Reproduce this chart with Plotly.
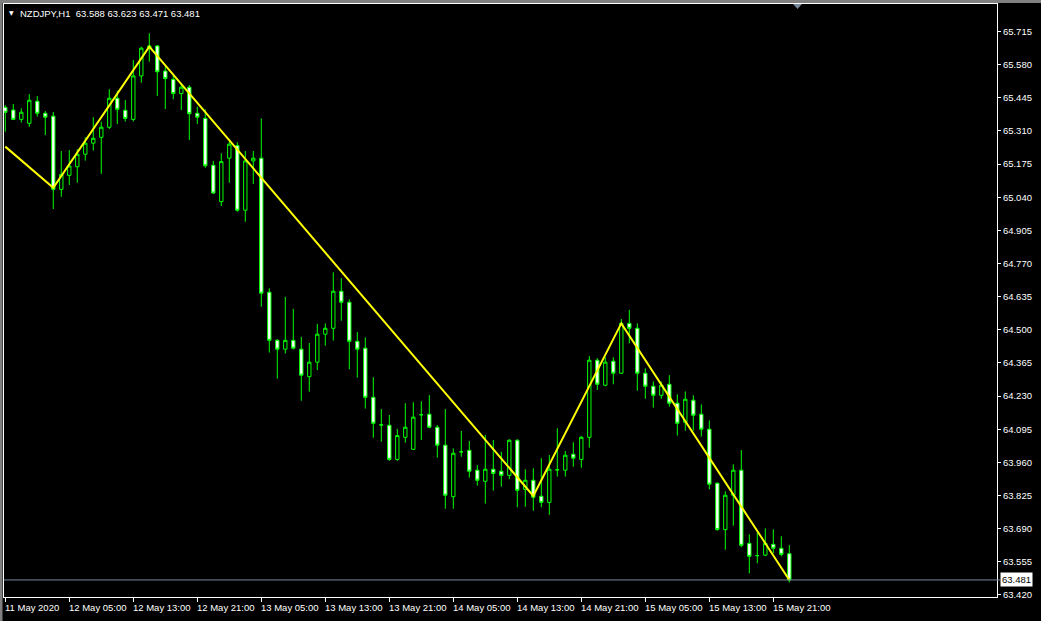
import pandas as pd
import plotly.graph_objects as go

# ---- data ----
times = pd.date_range("2020-05-11 21:00", periods=99, freq="h")

opens = [65.406, 65.395, 65.357, 65.341, 65.431, 65.382, 65.370, 65.072, 65.129, 65.164,
         65.215, 65.260, 65.284, 65.325, 65.443, 65.394, 65.357, 65.534, 65.647, 65.656,
         65.554, 65.520, 65.462, 65.488, 65.382, 65.361, 65.170, 65.022, 65.199, 65.250,
         64.987, 65.188, 65.199, 64.653, 64.457, 64.421, 64.457, 64.421, 64.309, 64.368,
         64.482, 64.506, 64.657, 64.612, 64.453, 64.425, 64.225, 64.113, 64.111, 63.972,
         64.062, 64.013, 64.154, 64.156, 64.103, 64.030, 63.820, 64.003, 64.009, 63.928,
         63.883, 63.932, 63.924, 63.907, 64.050, 63.850, 63.887, 63.822, 63.797, 63.929,
         63.928, 63.993, 63.972, 64.062, 64.376, 64.274, 64.372, 64.323, 64.526, 64.506,
         64.323, 64.270, 64.233, 64.278, 64.201, 64.123, 64.213, 64.156, 64.095, 63.875,
         63.686, 63.826, 63.928, 63.630, 63.580, 63.582, 63.626, 63.610, 63.588]
highs = [65.415, 65.420, 65.402, 65.460, 65.452, 65.391, 65.387, 65.228, 65.232, 65.236,
         65.284, 65.366, 65.348, 65.480, 65.474, 65.436, 65.599, 65.653, 65.708, 65.660,
         65.572, 65.538, 65.497, 65.497, 65.409, 65.398, 65.188, 65.219, 65.266, 65.264,
         65.228, 65.228, 65.361, 64.669, 64.462, 64.634, 64.585, 64.471, 64.446, 64.524,
         64.526, 64.734, 64.710, 64.624, 64.491, 64.469, 64.307, 64.177, 64.153, 64.096,
         64.201, 64.205, 64.209, 64.234, 64.112, 64.177, 64.017, 64.088, 64.047, 63.949,
         64.071, 64.051, 64.003, 64.054, 64.054, 63.932, 63.936, 63.977, 63.990, 64.099,
         64.006, 64.042, 64.067, 64.393, 64.384, 64.388, 64.388, 64.544, 64.581, 64.526,
         64.343, 64.290, 64.289, 64.315, 64.237, 64.249, 64.233, 64.196, 64.131, 63.878,
         63.842, 63.952, 64.010, 63.667, 63.675, 63.691, 63.687, 63.659, 63.623]
lows = [65.307, 65.355, 65.344, 65.327, 65.368, 65.293, 64.992, 65.042, 65.090, 65.099,
        65.189, 65.230, 65.135, 65.318, 65.338, 65.348, 65.348, 65.506, 65.592, 65.452,
        65.399, 65.439, 65.395, 65.273, 65.338, 65.160, 65.053, 65.004, 65.099, 64.981,
        64.940, 65.094, 64.594, 64.407, 64.301, 64.403, 64.420, 64.211, 64.248, 64.336,
        64.435, 64.456, 64.537, 64.339, 64.305, 64.179, 64.060, 64.044, 63.966, 63.966,
        64.040, 64.010, 64.051, 64.099, 63.979, 63.771, 63.771, 63.983, 63.898, 63.865,
        63.792, 63.845, 63.861, 63.891, 63.777, 63.779, 63.763, 63.777, 63.746, 63.902,
        63.902, 63.942, 63.938, 64.020, 64.255, 64.270, 64.278, 64.320, 64.445, 64.252,
        64.219, 64.183, 64.219, 64.187, 64.069, 64.089, 64.089, 64.065, 63.850, 63.682,
        63.604, 63.702, 63.614, 63.508, 63.549, 63.578, 63.590, 63.577, 63.471]
closes = [65.386, 65.357, 65.386, 65.435, 65.382, 65.366, 65.072, 65.133, 65.167, 65.215,
          65.260, 65.280, 65.325, 65.443, 65.398, 65.361, 65.534, 65.647, 65.656, 65.551,
          65.523, 65.462, 65.488, 65.380, 65.366, 65.168, 65.057, 65.185, 65.256, 64.987,
          65.188, 65.199, 64.649, 64.457, 64.421, 64.457, 64.425, 64.315, 64.368, 64.482,
          64.506, 64.657, 64.612, 64.453, 64.421, 64.225, 64.119, 64.112, 63.972, 64.069,
          64.103, 64.144, 64.154, 64.103, 64.030, 63.826, 63.997, 64.003, 63.924, 63.887,
          63.932, 63.915, 63.907, 64.050, 63.846, 63.887, 63.818, 63.797, 63.932, 63.930,
          63.989, 63.977, 64.062, 64.376, 64.278, 64.368, 64.323, 64.526, 64.506, 64.323,
          64.270, 64.233, 64.274, 64.201, 64.119, 64.217, 64.152, 64.095, 63.871, 63.686,
          63.826, 63.928, 63.622, 63.577, 63.580, 63.630, 63.610, 63.585, 63.481]

# zigzag indicator vertices (bar index, price)
zz_idx = [0, 6, 18, 66, 77, 98]
zz_price = [65.246, 65.078, 65.653, 63.823, 64.526, 63.481]

# axis labels
y_ticks = [65.715, 65.580, 65.445, 65.310, 65.175, 65.040, 64.905, 64.770, 64.635,
           64.500, 64.365, 64.230, 64.095, 63.960, 63.825, 63.690, 63.555, 63.420]
x_tick_idx = [0, 8, 16, 24, 32, 40, 48, 56, 64, 72, 80, 88, 96]
x_tick_text = ["11 May 2020", "12 May 05:00", "12 May 13:00", "12 May 21:00",
               "13 May 05:00", "13 May 13:00", "13 May 21:00", "14 May 05:00",
               "14 May 13:00", "14 May 21:00", "15 May 05:00", "15 May 13:00",
               "15 May 21:00"]
symbol_title = "NZDJPY,H1"
last_price = closes[-1]

FONT = "Liberation Sans"
GREEN = "#00FF00"

fig = go.Figure()
fig.add_trace(go.Candlestick(
    x=times, open=opens, high=highs, low=lows, close=closes,
    increasing=dict(line=dict(color=GREEN, width=1), fillcolor="#000000"),
    decreasing=dict(line=dict(color=GREEN, width=1), fillcolor="#FFFFFF"),
    whiskerwidth=0, showlegend=False, hoverinfo="skip",
))
fig.add_trace(go.Scatter(
    x=[times[i] for i in zz_idx], y=zz_price, mode="lines",
    line=dict(color="#FFFF00", width=2), showlegend=False, hoverinfo="skip",
))

hour = pd.Timedelta(hours=1)
x0 = times[0] - 0.16 * hour
x1 = times[0] + 123.96 * hour

fig.update_layout(
    width=1041, height=621,
    margin=dict(l=4, r=44, t=4, b=24, autoexpand=False),
    paper_bgcolor="#000000", plot_bgcolor="#000000",
    boxgap=0.4,
    font=dict(family=FONT, size=9.5, color="#FFFFFF"),
    xaxis=dict(
        range=[x0, x1], rangeslider=dict(visible=False),
        showgrid=False, zeroline=False,
        showline=True, linecolor="#FFFFFF", linewidth=1, mirror=True,
        tickmode="array", tickvals=[times[i] for i in x_tick_idx],
        ticks="outside", ticklen=4, tickcolor="#FFFFFF", tickwidth=1,
        showticklabels=False,
    ),
    yaxis=dict(
        range=[63.4115, 65.827], side="right",
        showgrid=False, zeroline=False,
        showline=True, linecolor="#FFFFFF", linewidth=1, mirror=True,
        tickmode="array", tickvals=y_ticks,
        ticktext=[f"{v:.3f}" for v in y_ticks],
        ticks="outside", ticklen=3, tickcolor="#FFFFFF", tickwidth=1,
        tickfont=dict(family=FONT, size=9.5, color="#FFFFFF"),
    ),
)

# x tick labels, left-aligned at their ticks (MetaTrader style)
for i, txt in zip(x_tick_idx, x_tick_text):
    fig.add_annotation(x=times[i], y=0, xref="x", yref="paper", text=txt,
                       showarrow=False, xanchor="left", yanchor="top",
                       xshift=-2, yshift=-3,
                       font=dict(family=FONT, size=9.5, color="#FFFFFF"))

# title line
fig.add_annotation(x=0.0145, y=0.984, xref="paper", yref="paper",
                   text=f"{symbol_title}\u00a0\u00a0{opens[-1]:.3f} {highs[-1]:.3f} {lows[-1]:.3f} {closes[-1]:.3f}",
                   showarrow=False, xanchor="left", yanchor="middle",
                   font=dict(family=FONT, size=9.5, color="#FFFFFF"))
fig.add_annotation(x=0.0075, y=0.985, xref="paper", yref="paper", text="\u25BC",
                   showarrow=False, xanchor="center", yanchor="middle",
                   font=dict(family="DejaVu Sans", size=6, color="#FFFFFF"))

# current price line and label
fig.add_shape(type="line", xref="paper", yref="y", x0=0, x1=1.003,
              y0=last_price, y1=last_price,
              line=dict(color="#778899", width=1))
fig.add_annotation(x=1.003, y=last_price, xref="paper", yref="y",
                   text=f"{last_price:.3f}", showarrow=False,
                   xanchor="left", yanchor="middle", bgcolor="#FFFFFF",
                   borderpad=1,
                   font=dict(family=FONT, size=9.5, color="#000000"))

# chart shift marker at top
fig.add_shape(type="path", xref="paper", yref="paper",
              path="M 0.7946 1 L 0.8036 1 L 0.7991 0.9915 Z",
              fillcolor="#778899", line=dict(width=0))

# window chrome strips
fig.add_shape(type="rect", xref="paper", yref="paper",
              x0=-0.01, x1=1.05, y0=1.0015, y1=1.01,
              fillcolor="#808080", line=dict(width=0), layer="below")
fig.add_shape(type="rect", xref="paper", yref="paper",
              x0=-0.01, x1=-0.0015, y0=-0.05, y1=1.01,
              fillcolor="#808080", line=dict(width=0), layer="below")

fig.write_html(
    "out.html",
    config={"displayModeBar": False},
    post_script="document.body.style.margin='0';document.body.style.background='#000';",
)
